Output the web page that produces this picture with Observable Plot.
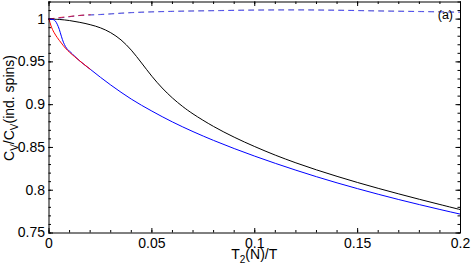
<!DOCTYPE html>
<html>
<head>
<meta charset="utf-8">
<script src="https://cdn.jsdelivr.net/npm/d3@7"></script>
<script src="https://cdn.jsdelivr.net/npm/@observablehq/plot@0.6"></script>
<style>
  html, body { margin: 0; padding: 0; background: #fff; }
  #chart svg { display: block; }
</style>
</head>
<body>
<div id="chart"></div>
<script>
// ---- data ----
const xTicks = [0, 0.05, 0.1, 0.15, 0.2];
const yTicks = [0.75, 0.8, 0.85, 0.9, 0.95, 1];

const blackX = [0, 0.005, 0.01, 0.015, 0.02, 0.025, 0.03, 0.035, 0.04, 0.045, 0.05, 0.055, 0.06, 0.065, 0.07, 0.08, 0.09, 0.1, 0.11, 0.12, 0.13, 0.14, 0.15, 0.16, 0.17, 0.18, 0.19, 0.2];
const blackY = [1, 0.9996, 0.9983, 0.9962, 0.9935, 0.9898, 0.9841, 0.9757, 0.9637, 0.9487, 0.9332, 0.9195, 0.9078, 0.8978, 0.8892, 0.8745, 0.862, 0.851, 0.841, 0.832, 0.8238, 0.8162, 0.809, 0.8022, 0.7957, 0.7894, 0.7833, 0.7773];

const blueX = [0, 0.002, 0.003, 0.004, 0.005, 0.006, 0.007, 0.008, 0.009, 0.01, 0.0125, 0.015, 0.02, 0.025, 0.03, 0.035, 0.04, 0.05, 0.06, 0.07, 0.08, 0.09, 0.1, 0.11, 0.12, 0.13, 0.14, 0.15, 0.16, 0.17, 0.18, 0.19, 0.2];
const blueY = [1, 0.9995, 0.998, 0.994, 0.988, 0.980, 0.973, 0.968, 0.9645, 0.9625, 0.9565, 0.951, 0.9415, 0.932, 0.923, 0.9145, 0.9065, 0.8925, 0.8798, 0.8685, 0.8582, 0.8487, 0.8398, 0.8314, 0.8234, 0.8158, 0.8086, 0.8018, 0.7953, 0.7891, 0.7832, 0.7775, 0.772];

const redX = [0, 0.001, 0.0024, 0.004, 0.006, 0.008, 0.01, 0.0125, 0.015, 0.0175, 0.02];
const redY = [1, 0.992, 0.9846, 0.9785, 0.972, 0.966, 0.9612, 0.956, 0.951, 0.9462, 0.9415];

const dashX = [0, 0.0075, 0.014, 0.025, 0.04, 0.06, 0.083, 0.1, 0.12, 0.14, 0.16, 0.18, 0.2];
const blueDashY = [1, 1.002, 1.004, 1.0053, 1.0075, 1.009, 1.0099, 1.0105, 1.0107, 1.0103, 1.0095, 1.0088, 1.008];
const blackDashY = [1, 1.0021, 1.0041, 1.0055, 1.0077, 1.0092, 1.0101, 1.0107, 1.0109, 1.0105, 1.0097, 1.009, 1.0082];

const redDashX = [0, 0.005, 0.01, 0.015, 0.02];
const redDashY = [1, 1.0018, 1.0031, 1.0043, 1.0052];

// ---- layout ----
const W = 471, H = 270;
const mL = 48.5, mR = 11, mT = 1.5, mB = 37.5;
const pw = W - mL - mR, ph = H - mT - mB;
const FONT = "'Liberation Sans', Arial, Helvetica, sans-serif";

const toRows = (xs, ys) => xs.map((x, i) => ({x, y: ys[i]}));
const xMinor = d3.range(0, 0.2001, 0.01);
const yMinor = d3.range(0.75, 1.0201, 0.01);
const fmt = d => `${d}`;

const chart = Plot.plot({
  width: W, height: H,
  marginLeft: mL, marginRight: mR, marginTop: mT, marginBottom: mB,
  style: {fontFamily: FONT, fontSize: "14px", background: "#fff", color: "#000"},
  x: {domain: [0, 0.2]},
  y: {domain: [0.75, 1.02]},
  marks: [
    // tick labels
    Plot.axisX(xTicks, {anchor: "bottom", tickSize: 0, tickPadding: 5, tickFormat: fmt, label: null, fontSize: 14}),
    Plot.axisY(yTicks, {anchor: "left", tickSize: 0, tickPadding: 4, tickFormat: fmt, label: null, fontSize: 14}),
    // inward ticks on all four sides
    Plot.tickX(xMinor, {x: d => d, insetTop: ph - 2.5, stroke: "#000"}),
    Plot.tickX(xMinor, {x: d => d, insetBottom: ph - 2.5, stroke: "#000"}),
    Plot.tickX(xTicks, {x: d => d, insetTop: ph - 4.5, stroke: "#000"}),
    Plot.tickX(xTicks, {x: d => d, insetBottom: ph - 4.5, stroke: "#000"}),
    Plot.tickY(yMinor, {y: d => d, insetRight: pw - 2.5, stroke: "#000"}),
    Plot.tickY(yMinor, {y: d => d, insetLeft: pw - 2.5, stroke: "#000"}),
    Plot.tickY(yTicks, {y: d => d, insetRight: pw - 4.5, stroke: "#000"}),
    Plot.tickY(yTicks, {y: d => d, insetLeft: pw - 4.5, stroke: "#000"}),
    // dashed curves
    Plot.line(toRows(dashX, blackDashY), {x: "x", y: "y", stroke: "#000", strokeOpacity: 0.35, strokeWidth: 1, strokeDasharray: "5,5", curve: "monotone-x"}),
    Plot.line(toRows(dashX, blueDashY), {x: "x", y: "y", stroke: "#3b3bff", strokeOpacity: 0.85, strokeWidth: 1, strokeDasharray: "5,5", curve: "monotone-x"}),
    Plot.line(toRows(redDashX, redDashY), {x: "x", y: "y", stroke: "#ff0000", strokeOpacity: 0.75, strokeWidth: 1, strokeDasharray: "5,5", curve: "monotone-x"}),
    // solid curves
    Plot.line(toRows(blackX, blackY), {x: "x", y: "y", stroke: "#000", strokeWidth: 1, curve: "catmull-rom"}),
    Plot.line(toRows(blueX, blueY), {x: "x", y: "y", stroke: "#0000ff", strokeWidth: 1, curve: "monotone-x"}),
    Plot.line(toRows(redX, redY), {x: "x", y: "y", stroke: "#ff0000", strokeWidth: 1, curve: "monotone-x"}),
    Plot.frame({stroke: "#000", strokeWidth: 1})
  ]
});

document.getElementById("chart").appendChild(chart);

// axis titles with subscripts, and panel label
const svg = d3.select(chart);
const xt = svg.append("text")
  .attr("x", mL + pw / 2).attr("y", 259)
  .attr("text-anchor", "middle")
  .attr("font-family", FONT).attr("font-size", 14).attr("fill", "#000");
xt.append("tspan").text("T");
xt.append("tspan").attr("font-size", 10).attr("dy", 4).text("2");
xt.append("tspan").attr("dy", -4).text("(N)/T");

const yt = svg.append("text")
  .attr("transform", `translate(13.5, ${mT + ph / 2 - 9}) rotate(-90)`)
  .attr("text-anchor", "middle")
  .attr("font-family", FONT).attr("font-size", 14).attr("fill", "#000");
yt.append("tspan").text("C");
yt.append("tspan").attr("font-size", 10).attr("dy", 4).text("V");
yt.append("tspan").attr("dy", -4).text("/C");
yt.append("tspan").attr("font-size", 10).attr("dy", 4).text("V");
yt.append("tspan").attr("dy", -4).text("(ind. spins)");

svg.append("text")
  .attr("x", mL + pw - 7).attr("y", 19)
  .attr("text-anchor", "end")
  .attr("font-family", FONT).attr("font-size", 12.5).attr("fill", "#000")
  .text("(a)");
</script>
</body>
</html>
